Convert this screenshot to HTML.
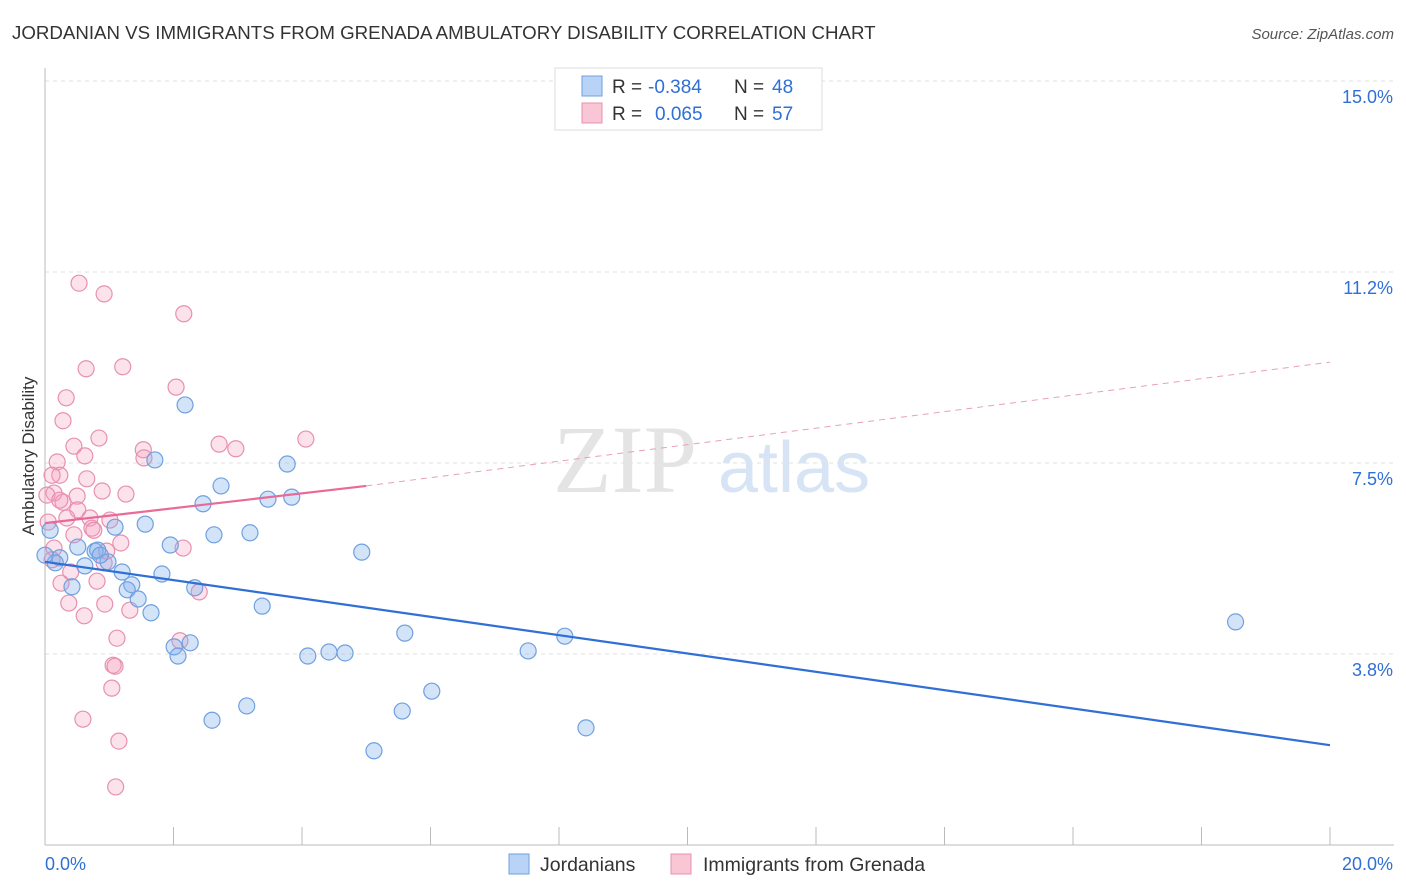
<!DOCTYPE html>
<html><head><meta charset="utf-8"><style>
body{margin:0;background:#fff;font-family:"Liberation Sans",sans-serif;}
#wrap{position:relative;width:1406px;height:892px;overflow:hidden;}
</style></head><body>
<div id="wrap">
<svg id="svg" width="1406" height="892" xmlns="http://www.w3.org/2000/svg">
<text x="12" y="39" font-size="18.7" fill="#333">JORDANIAN VS IMMIGRANTS FROM GRENADA AMBULATORY DISABILITY CORRELATION CHART</text>
<text x="1394" y="39" font-size="15" fill="#555" font-style="italic" text-anchor="end">Source: ZipAtlas.com</text>
<text x="0" y="0" transform="translate(34,456) rotate(-90)" font-size="17" fill="#333" text-anchor="middle">Ambulatory Disability</text>
<g><text x="553" y="492" font-size="96" font-family="Liberation Serif" fill="#e4e4e4">ZIP</text><text x="718" y="492" font-size="72" fill="#d6e4f5">atlas</text></g>
<g id="grid"></g><g id="marks"></g>
<g>
<rect x="555" y="68" width="267" height="62" fill="#fff" stroke="#ddd"/>
<rect x="582" y="76" width="20" height="20" fill="#b8d3f5" stroke="#6fa0e0"/>
<rect x="582" y="103" width="20" height="20" fill="#f9c6d6" stroke="#e890b0"/>
<text x="612" y="93" font-size="19" fill="#333">R =</text>
<text x="648" y="93" font-size="19" fill="#2f6fd6">-0.384</text>
<text x="734" y="93" font-size="19" fill="#333">N =</text>
<text x="772" y="93" font-size="19" fill="#2f6fd6">48</text>
<text x="612" y="120" font-size="19" fill="#333">R =</text>
<text x="655" y="120" font-size="19" fill="#2f6fd6">0.065</text>
<text x="734" y="120" font-size="19" fill="#333">N =</text>
<text x="772" y="120" font-size="19" fill="#2f6fd6">57</text>
</g>
<g>
<rect x="509" y="854" width="20" height="20" fill="#b8d3f5" stroke="#6fa0e0"/>
<text x="540" y="871" font-size="19.5" fill="#333">Jordanians</text>
<rect x="671" y="854" width="20" height="20" fill="#f9c6d6" stroke="#e890b0"/>
<text x="703" y="871" font-size="19.5" fill="#333">Immigrants from Grenada</text>
</g>
</svg>
<script>
const yTicks=[3.75,7.5,11.25,15];
const yTickLabels=["3.8%","7.5%","11.2%","15.0%"];
const xTicks=[0,2,4,6,8,10,12,14,16,18,20];
const blueX=[2.18,1.71,3.77,2.74,3.47,3.84,2.46,1.09,1.56,2.63,3.19,1.95,4.93,0.51,0.78,0.82,0.23,0.16,0.98,0.62,1.20,1.82,1.35,0.42,1.28,2.33,1.45,1.65,3.38,5.60,8.09,18.53,2.01,2.26,2.07,4.09,4.42,4.67,7.52,6.02,3.14,5.56,2.60,8.42,5.12,0.08,0.0,0.86];
const blueY=[8.64,7.56,7.48,7.05,6.79,6.83,6.70,6.24,6.30,6.09,6.13,5.89,5.75,5.85,5.77,5.79,5.64,5.54,5.56,5.48,5.36,5.32,5.11,5.07,5.01,5.05,4.83,4.56,4.69,4.16,4.10,4.38,3.89,3.97,3.71,3.71,3.79,3.77,3.81,3.02,2.73,2.63,2.45,2.30,1.85,6.18,5.69,5.69];
const pinkX=[0.53,0.92,2.16,1.21,0.64,2.04,0.33,0.28,0.84,4.06,0.45,1.53,2.71,2.97,1.54,0.62,0.19,0.23,0.65,0.89,1.26,0.50,0.14,0.03,0.28,0.51,0.34,0.70,0.05,0.73,0.76,0.45,1.18,0.96,2.15,0.14,0.92,0.40,0.81,0.25,2.40,0.37,0.93,0.61,2.10,1.12,1.06,1.09,1.04,0.59,1.15,1.10,0.11,0.23,1.01,1.32,0.11];
const pinkY=[11.03,10.82,10.43,9.39,9.35,8.99,8.78,8.33,7.99,7.97,7.83,7.76,7.87,7.78,7.60,7.64,7.52,7.26,7.19,6.95,6.89,6.85,6.91,6.87,6.73,6.58,6.42,6.42,6.34,6.22,6.18,6.09,5.93,5.77,5.83,5.83,5.54,5.36,5.18,5.14,4.97,4.75,4.73,4.50,4.01,4.06,3.53,3.51,3.08,2.47,2.04,1.14,7.26,6.77,6.38,4.61,5.60];
const blueTrend=[[0,5.56],[20,1.96]];
const pinkTrendSolid=[[0,6.32],[5,7.05]];
const pinkTrendDash=[[5,7.05],[20,9.48]];
const NS="http://www.w3.org/2000/svg";
const sx=v=>45+v/20*1285, sy=v=>845-v/15*764;
function mk(t,a,p){const e=document.createElementNS(NS,t);for(const k in a)e.setAttribute(k,a[k]);p.appendChild(e);return e;}
const grid=document.getElementById('grid'), marks=document.getElementById('marks');
yTicks.forEach((t,i)=>{
 const l=mk('line',{x1:45,x2:1394,y1:sy(t),y2:sy(t),stroke:'#e2e2e2','stroke-dasharray':'4,4'},grid);
 
 
 const tx=mk('text',{x:1393,y:sy(t)+22,'font-size':18,fill:'#2f6fd6','text-anchor':'end'},grid);tx.textContent=yTickLabels[i];
 
 
});
const ax=mk('line',{x1:45,x2:45,y1:68,y2:845,stroke:'#bbb'},grid);


const bx=mk('line',{x1:45,x2:1394,y1:845,y2:845,stroke:'#bbb'},grid);


xTicks.forEach(t=>{const l=mk('line',{x1:sx(t),x2:sx(t),y1:827,y2:845,stroke:'#bbb'},grid);
 
 });
const xl=mk('text',{x:45,y:870,'font-size':18,fill:'#2f6fd6'},grid);xl.textContent='0.0%';


const xr=mk('text',{x:1393,y:870,'font-size':18,fill:'#2f6fd6','text-anchor':'end'},grid);xr.textContent='20.0%';


function dots(X,Y,fill,stroke,name){X.forEach((x,i)=>{const c=mk('circle',{cx:sx(x),cy:sy(Y[i]),r:8,fill:fill,stroke:stroke,'stroke-width':1.2},marks);
 
 });}
dots(pinkX,pinkY,'rgba(244,160,190,0.3)','#e890b0','grenada-point');
dots(blueX,blueY,'rgba(130,175,235,0.35)','#6fa0e0','jordanian-point');
function line(p,col,dash,name,w){const l=mk('line',{x1:sx(p[0][0]),y1:sy(p[0][1]),x2:sx(p[1][0]),y2:sy(p[1][1]),stroke:col,'stroke-width':w},marks);if(dash)l.setAttribute('stroke-dasharray',dash);
 
 }
line(blueTrend,'#2f6fd6',null,'jordanian-trendline',2.2);
line(pinkTrendSolid,'#e86a98',null,'grenada-trendline',2.2);
line(pinkTrendDash,'#e8a0b8','6,5','grenada-trendline-extension',1);
</script>
</div></body></html>
